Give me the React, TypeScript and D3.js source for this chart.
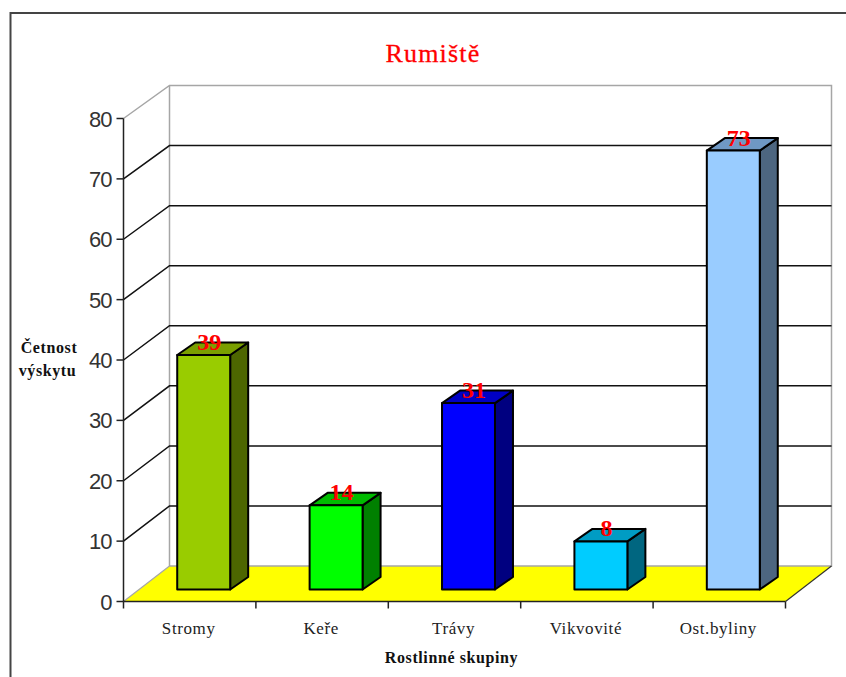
import React from "react";
import * as d3 from "d3";

const categories = ["Stromy", "Keře", "Trávy", "Vikvovité", "Ost.byliny"];
const counts = [39, 14, 31, 8, 73];
const frontColors = ["#99cc00", "#00ff00", "#0000ff", "#00ccff", "#99ccff"];
const topColors = ["#7a9f00", "#00bb00", "#0000c4", "#009cc4", "#6f98c4"];
const sideColors = ["#4d6600", "#008000", "#000080", "#006680", "#4d6680"];
const yTicks = [0, 10, 20, 30, 40, 50, 60, 70, 80];

const WIDTH = 846;
const HEIGHT = 677;
const DEPTH_X = 46;
const BAR_DX = 18;
const BAR_DY = -12.5;

// Value scales for the front plane, the back wall and the plane the bars stand on.
const yFront = d3.scaleLinear().domain([0, 80]).range([601.5, 118.5]);
const yBack = d3.scaleLinear().domain([0, 80]).range([566, 85.5]);
const yBar = d3.scaleLinear().domain([0, 80]).range([589.5, 108.5]);
const xAxis = d3.scaleBand<string>().domain(categories).range([123.5, 785.5]);
const xBar = d3
  .scaleBand<string>()
  .domain(categories)
  .range([137.5, 799.5])
  .paddingInner(0.6)
  .paddingOuter(0.3);

const poly = (pts: [number, number][]) => pts.map((p) => p.join(",")).join(" ");
const INK = "#111";
const WALL = "#a6a6a6";

export default function App() {
  const xL = xAxis.range()[0];
  const xR = xAxis.range()[1];
  const floorY = yFront(0);
  const backFloorY = yBack(0);
  return (
    <svg
      width={WIDTH}
      height={HEIGHT}
      viewBox={`0 0 ${WIDTH} ${HEIGHT}`}
      style={{ position: "absolute", left: 0, top: 0, background: "#fff" }}
    >
      {/* outer chart frame runs off the right and bottom edges */}
      <rect x={10.5} y={13} width={WIDTH + 20} height={HEIGHT + 20} fill="#fff" stroke="#444" strokeWidth={2} />

      <text
        x={433}
        y={62}
        textAnchor="middle"
        fontFamily="'Liberation Serif', serif"
        fontSize={26}
        letterSpacing={1.2}
        stroke="#ff0000"
        strokeWidth={0.3}
        fill="#ff0000"
      >
        Rumiště
      </text>

      {/* back wall and floor */}
      <polygon
        points={poly([
          [xL, floorY],
          [xL + DEPTH_X, backFloorY],
          [xR + DEPTH_X, backFloorY],
          [xR, floorY],
        ])}
        fill="#ffff00"
      />
      <path
        d={`M${xL},${yFront(80)}L${xL + DEPTH_X},${yBack(80)}H${xR + DEPTH_X}V${backFloorY}H${xL + DEPTH_X}V${yBack(80)}`}
        fill="none"
        stroke={WALL}
        strokeWidth={1.5}
      />
      <path d={`M${xL},${floorY}L${xL + DEPTH_X},${backFloorY}`} stroke={WALL} strokeWidth={1.2} fill="none" />
      <path d={`M${xR},${floorY}L${xR + DEPTH_X},${backFloorY}`} stroke="#333" strokeWidth={1.2} fill="none" />

      {/* gridlines wrap from the axis onto the back wall */}
      {yTicks
        .filter((t) => t > 0 && t < 80)
        .map((t) => (
          <path
            key={t}
            d={`M${xL},${yFront(t)}L${xL + DEPTH_X},${yBack(t)}H${xR + DEPTH_X}`}
            fill="none"
            stroke={INK}
            strokeWidth={1.5}
          />
        ))}

      {/* value axis */}
      <line x1={xL} x2={xL} y1={yFront(80)} y2={floorY} stroke="#222" strokeWidth={1.5} />
      {yTicks.map((t) => (
        <g key={t}>
          <line x1={xL - 7} x2={xL} y1={yFront(t)} y2={yFront(t)} stroke="#222" strokeWidth={1.5} />
          <text
            x={xL - 12}
            y={yFront(t) + 8}
            textAnchor="end"
            fontFamily="'Liberation Sans', sans-serif"
            fontSize={22}
            letterSpacing={-1}
            fill="#333"
          >
            {t}
          </text>
        </g>
      ))}

      {/* category axis */}
      <line x1={xL} x2={xR} y1={floorY} y2={floorY} stroke="#222" strokeWidth={1.5} />
      {[xL, ...categories.map((c) => (xAxis(c) as number) + xAxis.bandwidth())].map((x) => (
        <line key={x} x1={x} x2={x} y1={floorY} y2={floorY + 7} stroke="#222" strokeWidth={1.5} />
      ))}
      {categories.map((c) => (
        <text
          key={c}
          x={(xAxis(c) as number) + xAxis.bandwidth() / 2 - 1}
          y={634}
          textAnchor="middle"
          fontFamily="'Liberation Serif', serif"
          fontSize={17}
          letterSpacing={0.6}
          fill="#222"
        >
          {c}
        </text>
      ))}

      {/* bars */}
      {categories.map((c, i) => {
        const x0 = xBar(c) as number;
        const x1 = x0 + xBar.bandwidth();
        const yT = yBar(counts[i]);
        const yB = yBar(0);
        return (
          <g key={c} stroke="#000" strokeWidth={2} strokeLinejoin="round">
            <polygon
              points={poly([
                [x1, yT],
                [x1 + BAR_DX, yT + BAR_DY],
                [x1 + BAR_DX, yB + BAR_DY],
                [x1, yB],
              ])}
              fill={sideColors[i]}
            />
            <polygon
              points={poly([
                [x0, yT],
                [x0 + BAR_DX, yT + BAR_DY],
                [x1 + BAR_DX, yT + BAR_DY],
                [x1, yT],
              ])}
              fill={topColors[i]}
            />
            <rect x={x0} y={yT} width={x1 - x0} height={yB - yT} fill={frontColors[i]} />
          </g>
        );
      })}

      {/* value labels */}
      {categories.map((c, i) => (
        <text
          key={c}
          x={(xBar(c) as number) + xBar.bandwidth() / 2 + 5.5}
          y={yBar(counts[i]) - 5}
          textAnchor="middle"
          fontFamily="'Liberation Serif', serif"
          fontWeight="bold"
          fontSize={24}
          fill="#ff0000"
        >
          {counts[i]}
        </text>
      ))}

      {/* axis titles */}
      <g fontFamily="'Liberation Serif', serif" fontWeight="bold" fontSize={16} letterSpacing={0.6} fill="#111" textAnchor="middle">
        <text x={49} y={353}>Četnost</text>
        <text x={47.5} y={376}>výskytu</text>
        <text x={451.5} y={663}>Rostlinné skupiny</text>
      </g>
    </svg>
  );
}
